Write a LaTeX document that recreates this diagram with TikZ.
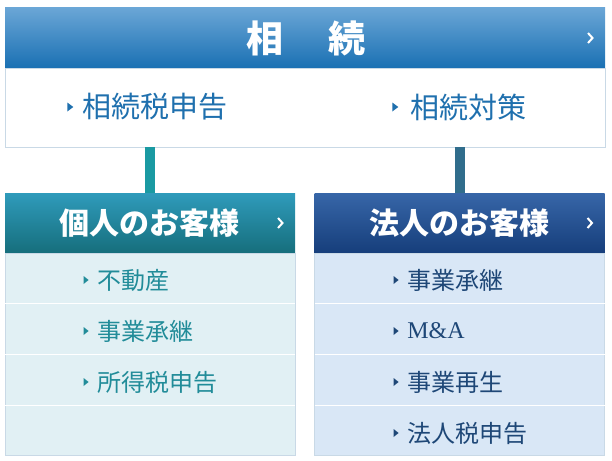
\documentclass[tikz,border=0pt]{standalone}
\usepackage{fontspec}
\setmainfont{Liberation Serif}
\newfontfamily\jp{Noto Sans CJK JP}
\usetikzlibrary{positioning}
\usetikzlibrary{shapes.geometric}

\definecolor{bannertop}{HTML}{6AA6D6}
\definecolor{bannerbot}{HTML}{1A70B3}
\definecolor{ktop}{HTML}{2F9BBB}
\definecolor{kbot}{HTML}{166E7C}
\definecolor{htop}{HTML}{3766A8}
\definecolor{hbot}{HTML}{163E7B}
\definecolor{kfill}{HTML}{E1F0F4}
\definecolor{hfill}{HTML}{D9E7F6}
\definecolor{panelline}{HTML}{C9D9E6}
\definecolor{kbarcol}{HTML}{1A9AA2}
\definecolor{hbarcol}{HTML}{306D8C}
\definecolor{topink}{HTML}{1F70AE}
\definecolor{kink}{HTML}{218C99}
\definecolor{hink}{HTML}{1E4777}

\begin{document}
\begin{tikzpicture}[
    x=1pt, y=-1pt,
    box/.style={rectangle, inner sep=0pt, outer sep=0pt},
    banner/.style={box, minimum width=600pt, minimum height=60pt, top color=bannertop, bottom color=bannerbot},
    panel/.style={box, draw=panelline, fill=white, minimum width=600pt, minimum height=79pt},
    head/.style={box, minimum width=290pt, minimum height=60pt},
    khead/.style={head, top color=ktop, bottom color=kbot},
    hhead/.style={head, top color=htop, bottom color=hbot},
    list/.style={box, draw=panelline, minimum width=290pt, minimum height=202pt},
    title/.style={text=white, font=\jp\bfseries\fontsize{30}{30}\selectfont, inner sep=0pt},
    bullet/.style={isosceles triangle, isosceles triangle stretches, minimum width=9pt, minimum height=6pt, inner sep=0pt},
    topitem/.style={text=topink, font=\jp\fontsize{29}{29}\selectfont, inner sep=0pt},
    item/.style={font=\jp\fontsize{24}{24}\selectfont, inner sep=0pt},
    chev/.style={draw=white, line width=2pt},
    sep/.style={draw=white, line width=1pt}
]
\useasboundingbox (0,0) rectangle (612,460);

% --- Top banner and its menu ---
\node[banner] (sozoku) at (305,38) {};
\node[title, font=\jp\bfseries\fontsize{37}{37}\selectfont] (sozokut) at (306,38) {相\hspace{46pt}続};
\draw[chev] ([xshift=-17pt, yshift=5pt]sozoku.east) -- ++(4.5,5) -- ++(-4.5,5);

\node[panel] (menu) at (305,107.5) {};
\node[bullet, fill=topink] (tb1) at (69.5,107) {};
\node[topitem, right=9pt of tb1] (zeishin) {相続税申告};
\node[bullet, fill=topink] (tb2) at (394.5,107) {};
\node[topitem, right=12pt of tb2] (taisaku) {相続対策};

% --- Left column: individuals ---
\node[khead] (kojin) at (150,223) {};
\node[title] (kojint) at (149,223) {個人のお客様};
\draw[chev] ([xshift=-17pt, yshift=5pt]kojin.east) -- ++(4.5,5) -- ++(-4.5,5);
\node[list, fill=kfill, below=0pt of kojin] (klist) {};
\foreach \y in {303,354,405}
    \draw[sep] (klist.west |- 0,\y) -- (klist.east |- 0,\y);
\foreach \t/\y [count=\i] in {不動産/280, 事業承継/331, 所得税申告/382}
{
    \node[bullet, fill=kink, minimum width=8pt, minimum height=5pt] (kb\i) at (85.5,\y) {};
    \node[item, text=kink, right=8pt of kb\i] (k\i) {\t};
}

% --- Right column: corporations ---
\node[hhead] (hojin) at (459.5,223) {};
\node[title] (hojint) at (459,223) {法人のお客様};
\draw[chev] ([xshift=-17pt, yshift=5pt]hojin.east) -- ++(4.5,5) -- ++(-4.5,5);
\node[list, fill=hfill, below=0pt of hojin] (hlist) {};
\foreach \y in {303,354,405}
    \draw[sep] (hlist.west |- 0,\y) -- (hlist.east |- 0,\y);
\foreach \t/\y [count=\i] in {事業承継/280, {\rmfamily M\&A}/331, 事業再生/382, 法人税申告/433}
{
    \node[bullet, fill=hink, minimum width=8pt, minimum height=5pt] (hb\i) at (395.5,\y) {};
    \node[item, text=hink, right=8pt of hb\i] (h\i) {\t};
}

% --- Connectors from the menu down to each column ---
\draw[kbarcol, line width=10pt] (kojin.north) -- (kojin.north |- menu.south);
\draw[hbarcol, line width=10pt] (hojin.north) -- (hojin.north |- menu.south);

\end{tikzpicture}
\end{document}
